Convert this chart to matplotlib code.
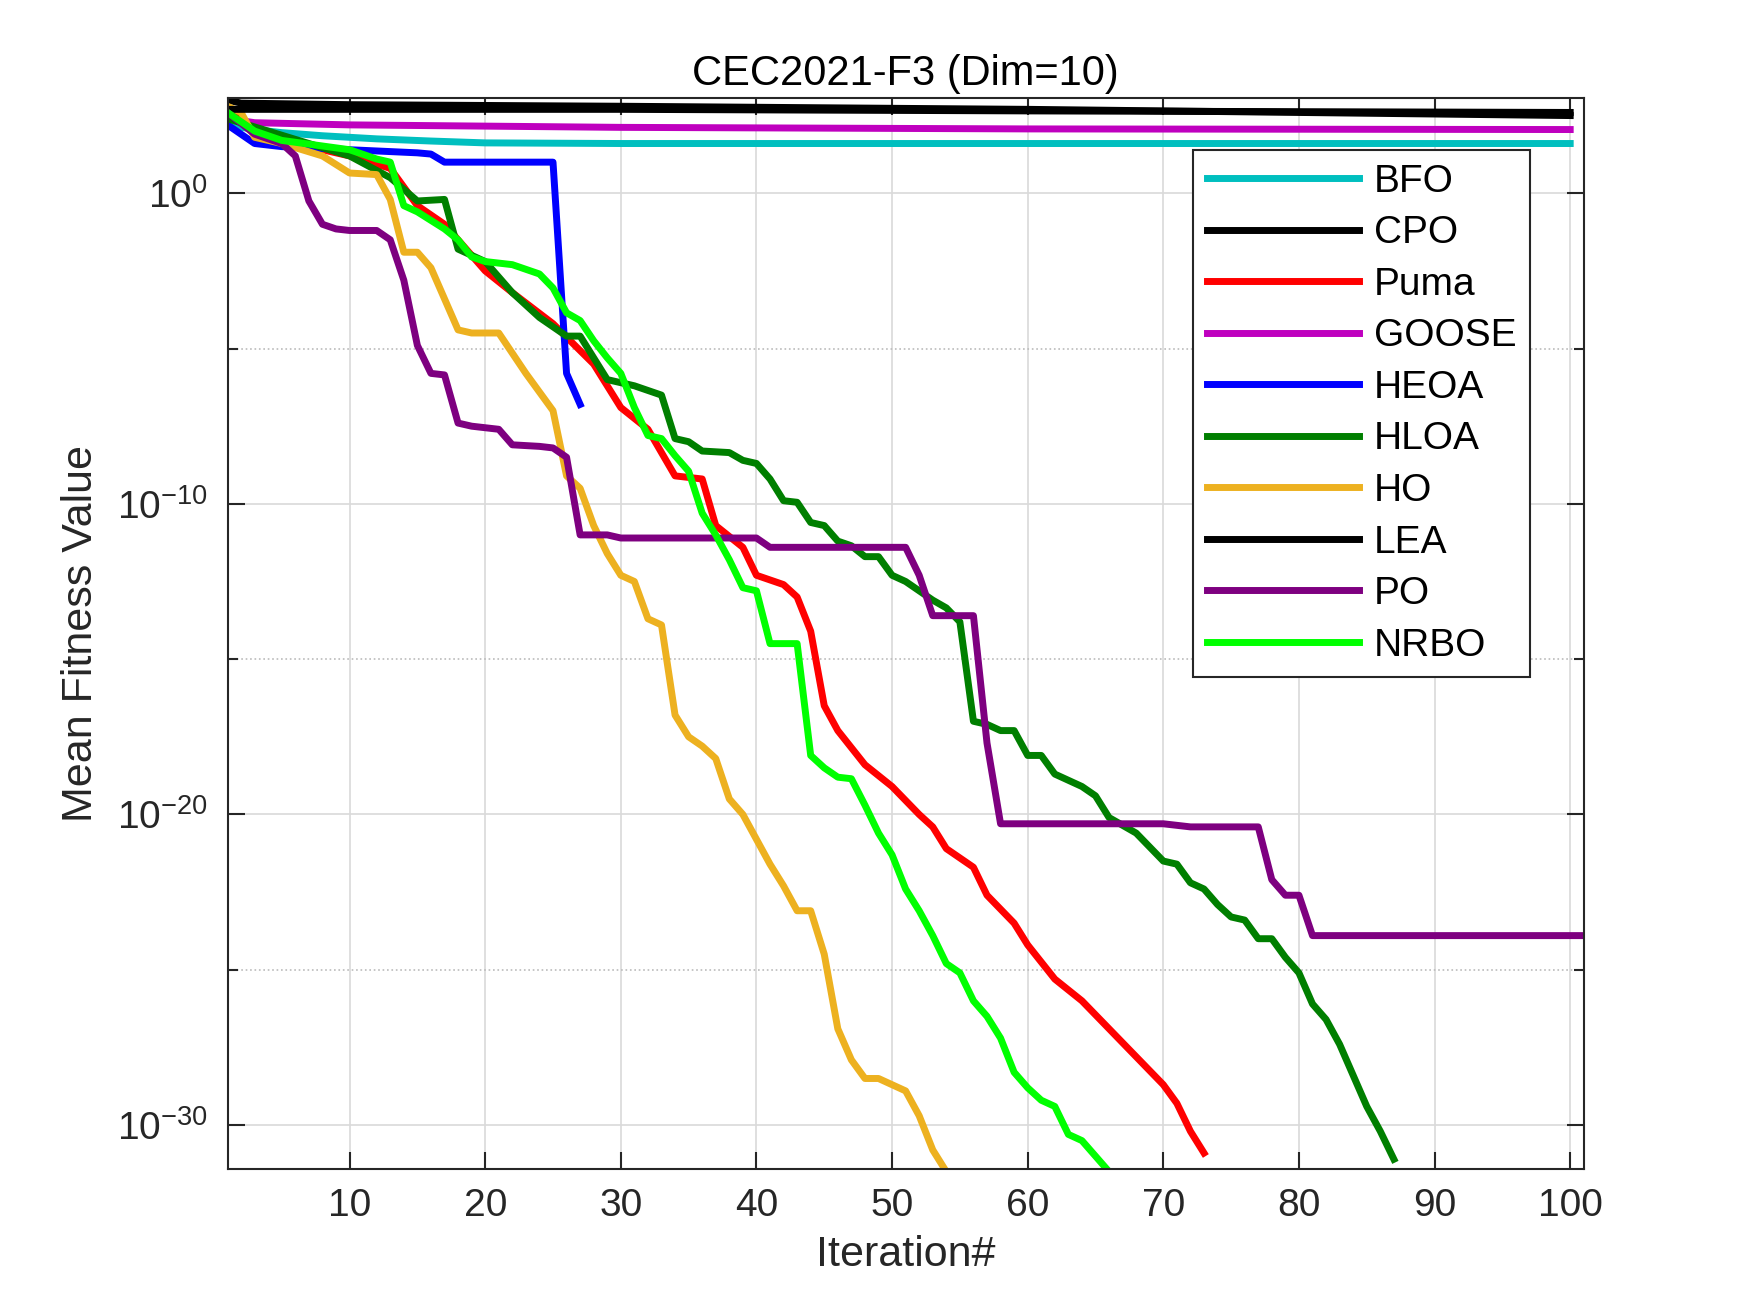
import numpy as np
import matplotlib
matplotlib.use("Agg")
import matplotlib.pyplot as plt
from matplotlib.ticker import FixedLocator, NullFormatter

plt.rcParams['font.family'] = ['Liberation Sans', 'DejaVu Sans']
plt.rcParams['axes.unicode_minus'] = False

# iteration, log10(mean fitness)
bfo_x = [1, 3, 5, 8, 12, 16, 20, 30, 50, 100]
bfo_y = [2.2, 2.05, 1.95, 1.85, 1.75, 1.68, 1.62, 1.6, 1.6, 1.6]
cpo_x = [1, 2, 10, 30, 60, 80, 100]
cpo_y = [3.0, 2.9, 2.85, 2.8, 2.7, 2.6, 2.5]
lea_x = [1, 2, 10, 30, 60, 100]
lea_y = [2.7, 2.7, 2.7, 2.7, 2.65, 2.6]
goose_x = [1, 3, 10, 30, 60, 100]
goose_y = [2.4, 2.27, 2.2, 2.12, 2.07, 2.05]
heoa_x = [1, 3, 5, 10, 15, 16, 17, 25, 26, 27]
heoa_y = [2.2, 1.6, 1.5, 1.4, 1.3, 1.26, 1.0, 1.0, -5.8, -6.8]
puma_x = [1, 5, 10, 13, 15, 17, 20, 22, 25, 28, 30, 32, 34, 36, 37, 39, 40, 42, 43, 44, 45, 46, 48, 50,
          52, 53, 54, 56, 57, 59, 60, 62, 64, 66, 68, 70, 71, 72, 73]
puma_y = [2.6, 1.7, 1.2, 0.8, -0.4, -1.0, -2.5, -3.2, -4.2, -5.5, -6.9, -7.6, -9.1, -9.2, -10.7, -11.4,
          -12.3, -12.6, -13.0, -14.1, -16.5, -17.3, -18.4, -19.1, -20.0, -20.4, -21.1, -21.7, -22.6, -23.5,
          -24.2, -25.3, -26.0, -26.9, -27.8, -28.7, -29.3, -30.2, -30.9]
hloa_x = [1, 10, 13, 15, 17, 18, 20, 22, 24, 26, 27, 29, 31, 33, 34, 35, 36, 38, 39, 40, 41, 42, 43, 44,
          45, 46, 47, 48, 49, 50, 51, 53, 54, 55, 56, 57, 58, 59, 60, 61, 62, 64, 65, 66, 68, 70, 71, 72,
          73, 74, 75, 76, 77, 78, 79, 80, 81, 82, 83, 84, 85, 86, 87]
hloa_y = [2.4, 1.2, 0.5, -0.25, -0.2, -1.8, -2.2, -3.2, -4.0, -4.6, -4.6, -6.0, -6.2, -6.5, -7.9, -8.0,
          -8.3, -8.35, -8.6, -8.7, -9.2, -9.9, -9.95, -10.6, -10.7, -11.2, -11.35, -11.7, -11.7, -12.3,
          -12.5, -13.1, -13.35, -13.8, -17.0, -17.1, -17.3, -17.3, -18.1, -18.1, -18.7, -19.1, -19.4,
          -20.1, -20.6, -21.5, -21.6, -22.2, -22.4, -22.9, -23.3, -23.4, -24.0, -24.0, -24.6, -25.1,
          -26.1, -26.6, -27.4, -28.4, -29.4, -30.2, -31.1]
ho_x = [1, 2, 3, 5, 8, 10, 12, 13, 14, 15, 16, 18, 19, 21, 23, 25, 26, 27, 28, 29, 30, 31, 32, 33, 34,
        35, 36, 37, 38, 39, 40, 41, 42, 43, 44, 45, 46, 47, 48, 49, 50, 51, 52, 53, 54]
ho_y = [2.8, 2.6, 1.8, 1.6, 1.2, 0.65, 0.6, -0.2, -1.9, -1.9, -2.4, -4.4, -4.5, -4.5, -5.8, -7.0, -9.1,
        -9.5, -10.7, -11.6, -12.3, -12.5, -13.7, -13.9, -16.8, -17.5, -17.8, -18.2, -19.5, -20.0, -20.8,
        -21.6, -22.3, -23.1, -23.1, -24.5, -26.9, -27.9, -28.5, -28.5, -28.7, -28.9, -29.7, -30.8, -31.5]
po_x = [1, 3, 5, 6, 7, 8, 9, 10, 12, 13, 14, 15, 16, 17, 18, 19, 21, 22, 24, 25, 26, 27, 29, 30, 32,
        40, 41, 43, 51, 52, 53, 56, 57, 58, 70, 72, 77, 78, 79, 80, 81, 101]
po_y = [2.6, 1.9, 1.6, 1.2, -0.25, -1.0, -1.15, -1.2, -1.2, -1.5, -2.8, -4.9, -5.8, -5.85, -7.4, -7.5,
        -7.6, -8.1, -8.15, -8.2, -8.5, -11.0, -11.0, -11.1, -11.1, -11.1, -11.4, -11.4, -11.4, -12.3,
        -13.6, -13.6, -17.7, -20.3, -20.3, -20.4, -20.4, -22.1, -22.6, -22.6, -23.9, -23.9]
nrbo_x = [1, 3, 5, 10, 12, 13, 14, 15, 17, 18, 19, 20, 22, 24, 25, 26, 27, 28, 29, 30, 31, 32, 33, 34,
          35, 36, 37, 38, 39, 40, 41, 43, 44, 45, 46, 47, 48, 49, 50, 51, 52, 53, 54, 55, 56, 57, 58,
          59, 60, 61, 62, 63, 64, 65, 66, 67]
nrbo_y = [2.6, 2.0, 1.7, 1.4, 1.1, 1.0, -0.4, -0.6, -1.15, -1.5, -2.05, -2.2, -2.3, -2.6, -3.05, -3.85,
          -4.1, -4.75, -5.3, -5.8, -6.9, -7.8, -7.9, -8.45, -8.95, -10.3, -11.0, -11.8, -12.7, -12.8,
          -14.5, -14.5, -18.1, -18.5, -18.8, -18.85, -19.7, -20.6, -21.3, -22.4, -23.1, -23.9, -24.8,
          -25.1, -26.0, -26.5, -27.2, -28.3, -28.8, -29.2, -29.4, -30.3, -30.5, -31.0, -31.5, -31.5]

series = [
    ("BFO", bfo_x, bfo_y, "#00BFBF"),
    ("CPO", cpo_x, cpo_y, "#000000"),
    ("Puma", puma_x, puma_y, "#FF0000"),
    ("GOOSE", goose_x, goose_y, "#BF00BF"),
    ("HEOA", heoa_x, heoa_y, "#0000FF"),
    ("HLOA", hloa_x, hloa_y, "#007F00"),
    ("HO", ho_x, ho_y, "#EDB120"),
    ("LEA", lea_x, lea_y, "#000000"),
    ("PO", po_x, po_y, "#7E0080"),
    ("NRBO", nrbo_x, nrbo_y, "#00FF00"),
]

fig = plt.figure(figsize=(17.5, 13.13), dpi=100)
ax = fig.add_axes([0.130, 0.110, 0.775, 0.815])
for name, xs, ys, c in series:
    ax.plot(xs, 10.0 ** np.array(ys), color=c, lw=5, label=name)

ax.set_yscale('log')
ax.set_xlim(1, 101)
ax.set_ylim(10 ** -31.4, 10 ** 3.05)
ax.set_xticks(range(10, 101, 10))
ax.yaxis.set_major_locator(FixedLocator([1e-30, 1e-20, 1e-10, 1e0]))
ax.yaxis.set_minor_locator(FixedLocator([1e-25, 1e-15, 1e-5]))
ax.yaxis.set_minor_formatter(NullFormatter())
ax.grid(True, which='major', color='#d9d9d9', lw=1.2)
ax.grid(True, which='minor', axis='y', color='#bbbbbb', lw=1.2, ls=':')
ax.tick_params(which='both', direction='in', top=True, right=True, labelsize=28,
               length=12, width=1.5, colors='#262626', pad=14)
ax.tick_params(which='minor', length=7)
for s in ax.spines.values():
    s.set_color('#262626')
    s.set_linewidth(1.5)
ax.set_xlabel('Iteration#', fontsize=31, color='#262626', labelpad=8)
ax.set_ylabel('Mean Fitness Value', fontsize=31, color='#262626', labelpad=12)
ax.set_title('CEC2021-F3 (Dim=10)', fontsize=30, color='black', pad=10)
leg = ax.legend(loc='upper right', bbox_to_anchor=(0.975, 0.97), fontsize=28, handlelength=3.9,
                labelspacing=0.4, fancybox=False, edgecolor='#262626', framealpha=1,
                borderpad=0.35, handletextpad=0.4)
leg.get_frame().set_linewidth(1.5)
fig.savefig('out.png', dpi=100)
